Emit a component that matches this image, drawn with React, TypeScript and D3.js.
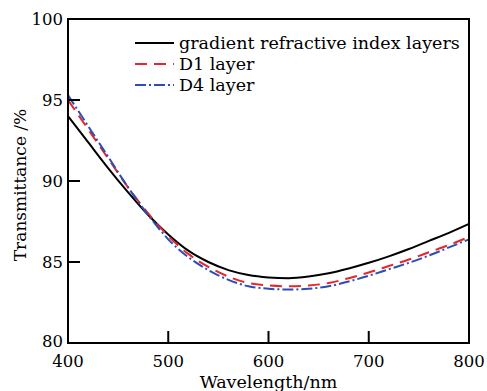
import React, { useEffect, useRef } from "react";
import * as d3 from "d3";

// wavelength samples (nm)
const wavelengths = [400, 420, 440, 460, 480, 500, 520, 540, 560, 580, 600, 620, 640, 660, 680, 700, 720, 740, 760, 780, 800];
// transmittance (%)
const gradientLayers = [94.0, 92.4, 90.8, 89.3, 87.9, 86.7, 85.7, 85.0, 84.5, 84.2, 84.05, 84.0, 84.1, 84.3, 84.6, 84.95, 85.35, 85.8, 86.3, 86.8, 87.35];
const d1Layer = [95.0, 93.2, 91.4, 89.6, 88.0, 86.6, 85.5, 84.7, 84.1, 83.7, 83.55, 83.5, 83.55, 83.7, 84.0, 84.35, 84.75, 85.15, 85.6, 86.05, 86.55];
const d4Layer = [95.3, 93.4, 91.5, 89.6, 87.9, 86.4, 85.3, 84.5, 83.9, 83.5, 83.35, 83.3, 83.35, 83.5, 83.8, 84.15, 84.55, 84.95, 85.4, 85.9, 86.4];

const xTicks = [400, 500, 600, 700, 800];
const yTicks = [80, 85, 90, 95, 100];

const seriesNames = ["gradient refractive index layers", "D1 layer", "D4 layer"];
const seriesColors = ["#000000", "#e5262d", "#2c4db3"];
const seriesDash = ["none", "12,7", "11,3,2,3"];

const App = () => {
    const svgRef = useRef(null);

    useEffect(() => {
        const svg = d3.select(svgRef.current);
        svg.selectAll("*").remove();

        const width = 487;
        const height = 391;
        const margin = { top: 19, right: 18, bottom: 48, left: 68 };
        const font = "'DejaVu Serif', 'Liberation Serif', serif";

        svg.attr("width", width).attr("height", height);

        const x = d3.scaleLinear().domain([400, 800]).range([margin.left, width - margin.right]);
        const y = d3.scaleLinear().domain([80, 100]).range([height - margin.bottom, margin.top]);

        const series = [gradientLayers, d1Layer, d4Layer];

        const line = d3.line()
            .x((d, i) => x(wavelengths[i]))
            .y(d => y(d))
            .curve(d3.curveMonotoneX);

        // curves
        series.forEach((vals, k) => {
            svg.append("path")
                .attr("d", line(vals))
                .attr("fill", "none")
                .attr("stroke", seriesColors[k])
                .attr("stroke-width", 2)
                .attr("stroke-dasharray", seriesDash[k]);
        });

        // frame
        svg.append("rect")
            .attr("x", x(400))
            .attr("y", y(100))
            .attr("width", x(800) - x(400))
            .attr("height", y(80) - y(100))
            .attr("fill", "none")
            .attr("stroke", "#000")
            .attr("stroke-width", 2);

        // inner ticks
        const tickLen = 12;
        xTicks.filter(t => t > 400 && t < 800).forEach(t => {
            svg.append("line")
                .attr("x1", x(t)).attr("x2", x(t))
                .attr("y1", y(80)).attr("y2", y(80) - tickLen)
                .attr("stroke", "#000").attr("stroke-width", 2);
        });
        yTicks.filter(t => t > 80 && t < 100).forEach(t => {
            svg.append("line")
                .attr("x1", x(400)).attr("x2", x(400) + tickLen)
                .attr("y1", y(t)).attr("y2", y(t))
                .attr("stroke", "#000").attr("stroke-width", 2);
        });

        // tick labels
        xTicks.forEach(t => {
            svg.append("text")
                .attr("x", x(t))
                .attr("y", 367)
                .attr("text-anchor", "middle")
                .style("font-family", font)
                .style("font-size", "16.5px")
                .text(t);
        });
        yTicks.forEach(t => {
            svg.append("text")
                .attr("x", x(400) - 5)
                .attr("y", t === 80 ? y(t) - 2 : y(t))
                .attr("dy", "0.36em")
                .attr("text-anchor", "end")
                .style("font-family", font)
                .style("font-size", "16.5px")
                .text(t);
        });

        // axis titles
        svg.append("text")
            .attr("x", (x(400) + x(800)) / 2)
            .attr("y", 388)
            .attr("text-anchor", "middle")
            .style("font-family", font)
            .style("font-size", "17.5px")
            .text("Wavelength/nm");

        svg.append("text")
            .attr("transform", `translate(26,${(y(80) + y(100)) / 2 + 4}) rotate(-90)`)
            .attr("text-anchor", "middle")
            .style("font-family", font)
            .style("font-size", "17px")
            .text("Transmittance /%");

        // legend
        seriesNames.forEach((name, k) => {
            const ly = 43 + k * 21;
            svg.append("line")
                .attr("x1", 135).attr("x2", 174)
                .attr("y1", ly).attr("y2", ly)
                .attr("stroke", seriesColors[k])
                .attr("stroke-width", 2)
                .attr("stroke-dasharray", seriesDash[k]);
            svg.append("text")
                .attr("x", 179)
                .attr("y", ly)
                .attr("dy", "0.32em")
                .style("font-family", font)
                .style("font-size", "17.5px")
                .text(name);
        });
    }, []);

    return <svg ref={svgRef} style={{ display: "block", position: "absolute", left: 0, top: 0 }} />;
};

export default App;
